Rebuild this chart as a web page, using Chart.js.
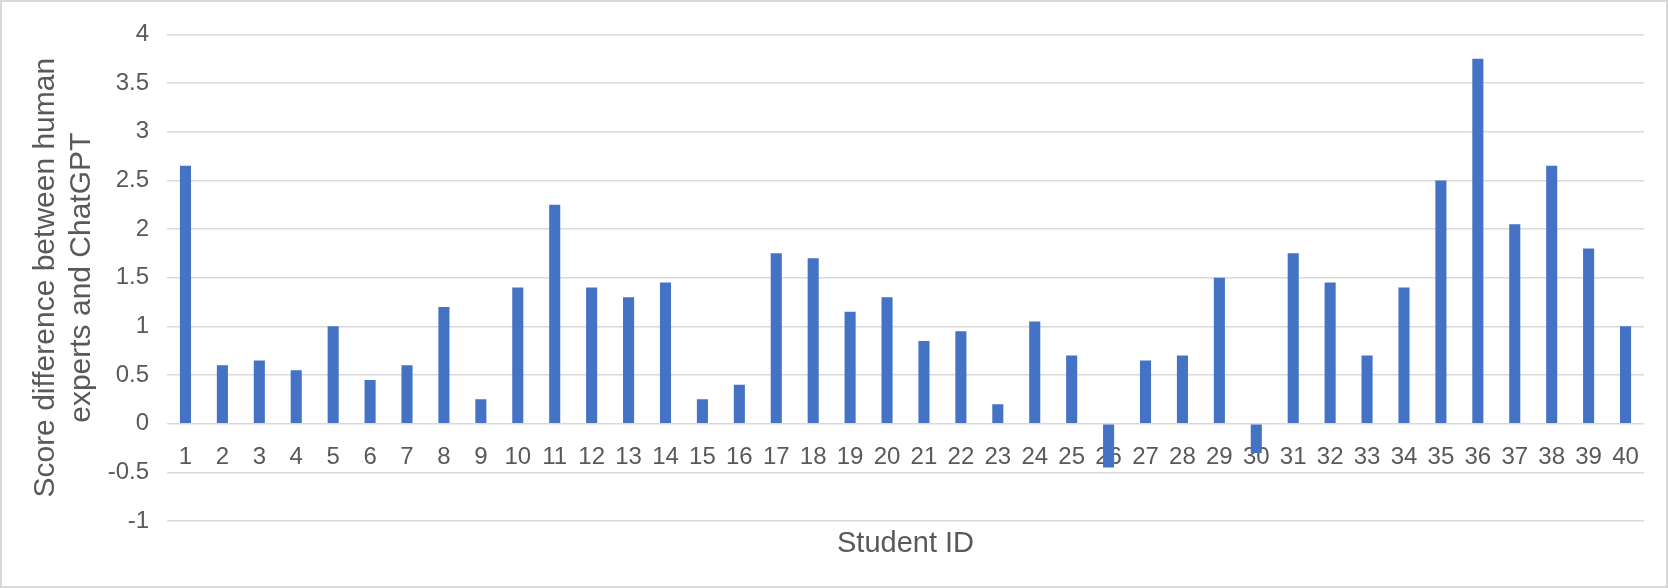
<!DOCTYPE html>
<html>
<head>
<meta charset="utf-8">
<script src="https://cdn.jsdelivr.net/npm/chart.js@4.4.1/dist/chart.umd.min.js"></script>
<style>
  html, body { margin: 0; padding: 0; background: #fff; }
  #wrap {
    width: 1668px; height: 588px;
    box-sizing: border-box;
    border: 2px solid #d9d9d9;
    position: relative;
  }
</style>
</head>
<body>
<div id="wrap"><canvas id="scoreChart"></canvas></div>
<script>
// Student IDs along the x axis
const studentIds = [
  '1', '2', '3', '4', '5', '6', '7', '8', '9', '10',
  '11', '12', '13', '14', '15', '16', '17', '18', '19', '20',
  '21', '22', '23', '24', '25', '26', '27', '28', '29', '30',
  '31', '32', '33', '34', '35', '36', '37', '38', '39', '40'
];

// Score difference (human experts minus ChatGPT)
const scoreDiff = [
  2.65, 0.6, 0.65, 0.55, 1.0, 0.45, 0.6, 1.2, 0.25, 1.4,
  2.25, 1.4, 1.3, 1.45, 0.25, 0.4, 1.75, 1.7, 1.15, 1.3,
  0.85, 0.95, 0.2, 1.05, 0.7, -0.45, 0.65, 0.7, 1.5, -0.3,
  1.75, 1.45, 0.7, 1.4, 2.5, 3.75, 2.05, 2.65, 1.8, 1.0
];

// y axis range
const yMin = -1;
const yMax = 4;
const yStep = 0.5;

const textColor = '#595959';
const gridColor = '#d9d9d9';
const barColor = '#4472c4';
const fontFamily = '"Liberation Sans", Arial, Helvetica, sans-serif';

const ctx = document.getElementById('scoreChart').getContext('2d');
new Chart(ctx, {
  type: 'bar',
  data: {
    labels: studentIds,
    datasets: [{
      label: 'Score difference',
      data: scoreDiff,
      backgroundColor: barColor,
      borderWidth: 0,
      barPercentage: 0.3,
      categoryPercentage: 1.0,
      xAxisID: 'x',
      yAxisID: 'y'
    }]
  },
  options: {
    responsive: true,
    maintainAspectRatio: false,
    animation: false,
    devicePixelRatio: 1,
    layout: { padding: { top: 24, right: 22, bottom: 0, left: 0 } },
    plugins: {
      legend: { display: false },
      tooltip: { enabled: false }
    },
    scales: {
      // category labels sit just under the zero line, like the original
      x: {
        type: 'category',
        position: { y: 0 },
        z: 1,
        offset: true,
        grid: { display: false, drawTicks: false },
        border: { display: false },
        ticks: {
          color: textColor,
          font: { family: fontFamily, size: 24 },
          padding: 19,
          maxRotation: 0,
          autoSkip: false
        }
      },
      // bottom axis only carries the title
      x2: {
        type: 'category',
        position: 'bottom',
        offset: true,
        grid: { display: false, drawTicks: false },
        border: { display: false },
        ticks: { display: false },
        title: {
          display: true,
          text: 'Student ID',
          color: textColor,
          font: { family: fontFamily, size: 29 },
          padding: { top: 0, bottom: 24.6 }
        },
        afterFit: function (scale) { scale.height = 65; }
      },
      y: {
        min: yMin,
        max: yMax,
        grid: { color: gridColor, lineWidth: 1.5, drawTicks: false },
        border: { display: false },
        ticks: {
          stepSize: yStep,
          color: textColor,
          font: { family: fontFamily, size: 24 },
          padding: 18,
          // "4" not "4.0", "0.5" stays
          callback: function (value) { return String(Number(value.toFixed(2))); }
        },
        title: {
          display: true,
          text: ['Score difference between human', 'experts and ChatGPT'],
          color: textColor,
          font: { family: fontFamily, size: 30, lineHeight: 1.17 },
          padding: { top: 26.6, bottom: 0 }
        },
        afterFit: function (scale) { scale.width = 165; }
      }
    }
  }
});
</script>
</body>
</html>
